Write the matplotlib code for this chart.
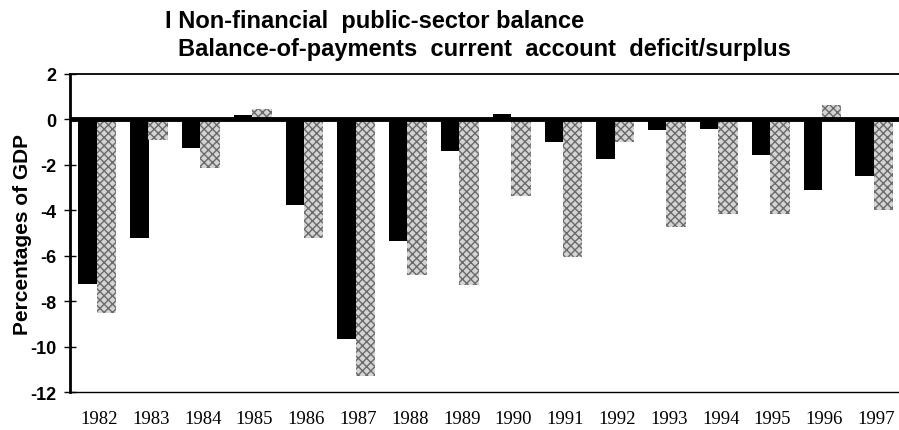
import matplotlib.pyplot as plt
import numpy as np

# valori (% din PIB)
years = ["1982", "1983", "1984", "1985", "1986", "1987", "1988", "1989",
         "1990", "1991", "1992", "1993", "1994", "1995", "1996", "1997"]
public_balance = [-7.25, -5.2, -1.25, 0.2, -3.75, -9.65, -5.35, -1.4,
                  0.25, -1.0, -1.75, -0.45, -0.4, -1.55, -3.1, -2.5]
current_account = [-8.5, -0.9, -2.15, 0.45, -5.2, -11.3, -6.85, -7.3,
                   -3.35, -6.05, -1.0, -4.75, -4.15, -4.15, 0.65, -4.0]
yticks = [2, 0, -2, -4, -6, -8, -10, -12]

fig = plt.figure(figsize=(8.99, 4.31), dpi=100)
ax = fig.add_axes([0.078, 0.088, 0.922, 0.738])

x = np.arange(len(years))
ax.bar(x - 0.22, public_balance, 0.36, color='black', zorder=2)
ax.bar(x + 0.14, current_account, 0.38, color='#d4d4d4', edgecolor='#6a6a6a',
       hatch='xxxx', linewidth=0, zorder=2)

ax.axhline(0, color='black', linewidth=3.5, zorder=3)

ax.set_xlim(-0.56, 15.44)
ax.set_ylim(-12, 2)
ax.set_yticks(yticks)
ax.set_yticklabels([str(v) for v in yticks], fontsize=13, fontweight='bold',
                   family='Liberation Sans')
ax.set_xticks(x)
ax.set_xticklabels(years, fontsize=13.5, family='Liberation Serif')
ax.tick_params(axis='x', length=0, pad=13)
ax.tick_params(axis='y', direction='inout', length=8, width=1, pad=6)

ax.set_ylabel('Percentages of GDP', fontsize=15, fontweight='bold',
              family='Liberation Sans')
ax.yaxis.set_label_coords(-0.046, 0.5)

ax.spines['right'].set_visible(False)
ax.spines['left'].set_linewidth(2)
ax.spines['top'].set_linewidth(1.3)
ax.spines['bottom'].set_linewidth(1)

fig.text(0.1835, 0.951, 'I Non-financial  public-sector balance', fontsize=17,
         fontweight='bold', family='Liberation Sans', va='center')
fig.text(0.198, 0.884, 'Balance-of-payments  current  account  deficit/surplus',
         fontsize=17, fontweight='bold', family='Liberation Sans', va='center')

fig.savefig('out.png', dpi=100)
